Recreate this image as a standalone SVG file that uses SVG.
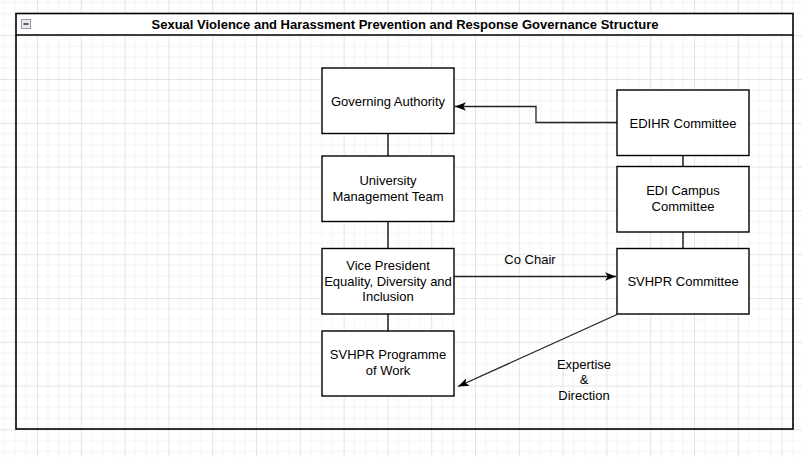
<svg xmlns="http://www.w3.org/2000/svg" width="802" height="457" viewBox="0 0 802 457">
  <defs>
    <pattern id="grid" x="-6.8" y="-8.6" width="43.8" height="43.8" patternUnits="userSpaceOnUse">
      <path d="M10.95,0 V43.8 M21.9,0 V43.8 M32.85,0 V43.8 M0,10.95 H43.8 M0,21.9 H43.8 M0,32.85 H43.8" stroke="#f3f3f3" stroke-width="1" fill="none"/>
      <path d="M0.5,0 V43.8 M0,0.5 H43.8" stroke="#e4e4e4" stroke-width="1" fill="none"/>
    </pattern>
    <marker id="arrow" markerUnits="userSpaceOnUse" markerWidth="12" markerHeight="10" viewBox="0 0 12 10" refX="11" refY="5" orient="auto">
      <path d="M0,0.8 L11,5 L0,9.2 L2.8,5 Z" fill="#000"/>
    </marker>
    <style>
      .box { fill: #ffffff; stroke: #000000; stroke-width: 1.4; }
      .lbl { font-family: "Liberation Sans", Arial, sans-serif; font-size: 13px; fill: #000000; text-anchor: middle; }
      .title { font-family: "Liberation Sans", Arial, sans-serif; font-size: 13px; font-weight: bold; fill: #000000; text-anchor: middle; }
      .link { fill: none; stroke: #000000; stroke-width: 1.3; }
      .edge { fill: none; stroke: #222222; stroke-width: 1.3; }
    </style>
  </defs>

  <rect x="0" y="0" width="802" height="457" fill="#ffffff"/>
  <rect x="0" y="0" width="802" height="457" fill="url(#grid)"/>

  <g id="container">
    <rect x="16" y="13.5" width="777" height="21.5" fill="#ffffff" stroke="none"/>
    <rect x="16" y="13.5" width="777" height="415.5" fill="none" stroke="#000000" stroke-width="1.6"/>
    <line x1="16" y1="35" x2="793" y2="35" stroke="#000000" stroke-width="1.3"/>
    <rect x="21.5" y="19.5" width="9" height="9" fill="#e8e8ee" stroke="#9a9aa8" stroke-width="1"/>
    <line x1="23.5" y1="24" x2="28.5" y2="24" stroke="#000000" stroke-width="1.2"/>
    <text class="title" x="405" y="29">Sexual Violence and Harassment Prevention and Response Governance Structure</text>
  </g>

  <g id="connectors">
    <line class="link" x1="388" y1="133" x2="388" y2="156"/>
    <line class="link" x1="388" y1="221" x2="388" y2="248"/>
    <line class="link" x1="388" y1="314" x2="388" y2="331"/>
    <line class="link" x1="683" y1="155" x2="683" y2="166"/>
    <line class="link" x1="683" y1="232" x2="683" y2="248"/>
    <path class="edge" d="M617,122.5 H536 V106.5 H455" marker-end="url(#arrow)"/>
    <path class="edge" d="M454,276.5 H616" marker-end="url(#arrow)"/>
    <path class="edge" d="M617,314.5 L458,386.5" marker-end="url(#arrow)"/>
    <text class="lbl" x="530" y="263.5">Co Chair</text>
    <text class="lbl" x="584" y="368.5">Expertise</text>
    <text class="lbl" x="584" y="384">&amp;</text>
    <text class="lbl" x="584" y="400">Direction</text>
  </g>

  <g id="governing-authority">
    <rect class="box" x="322" y="68" width="132" height="65.5"/>
    <text class="lbl" x="388" y="105.5">Governing Authority</text>
  </g>
  <g id="university-management-team">
    <rect class="box" x="322" y="156" width="132" height="65.5"/>
    <text class="lbl" x="388" y="184.5">University</text>
    <text class="lbl" x="388" y="200.5">Management Team</text>
  </g>
  <g id="vice-president-edi">
    <rect class="box" x="322" y="248.5" width="132" height="65.5"/>
    <text class="lbl" x="388" y="269.5">Vice President</text>
    <text class="lbl" x="388" y="285.5">Equality, Diversity and</text>
    <text class="lbl" x="388" y="301">Inclusion</text>
  </g>
  <g id="svhpr-programme">
    <rect class="box" x="322" y="331" width="132" height="65"/>
    <text class="lbl" x="388" y="359">SVHPR Programme</text>
    <text class="lbl" x="388" y="375">of Work</text>
  </g>
  <g id="edihr-committee">
    <rect class="box" x="617" y="90" width="132" height="65.5"/>
    <text class="lbl" x="683" y="127.5">EDIHR Committee</text>
  </g>
  <g id="edi-campus-committee">
    <rect class="box" x="617" y="166.5" width="132" height="65.5"/>
    <text class="lbl" x="683" y="195">EDI Campus</text>
    <text class="lbl" x="683" y="211">Committee</text>
  </g>
  <g id="svhpr-committee">
    <rect class="box" x="617" y="248.5" width="132" height="65.5"/>
    <text class="lbl" x="683" y="285.5">SVHPR Committee</text>
  </g>
</svg>
